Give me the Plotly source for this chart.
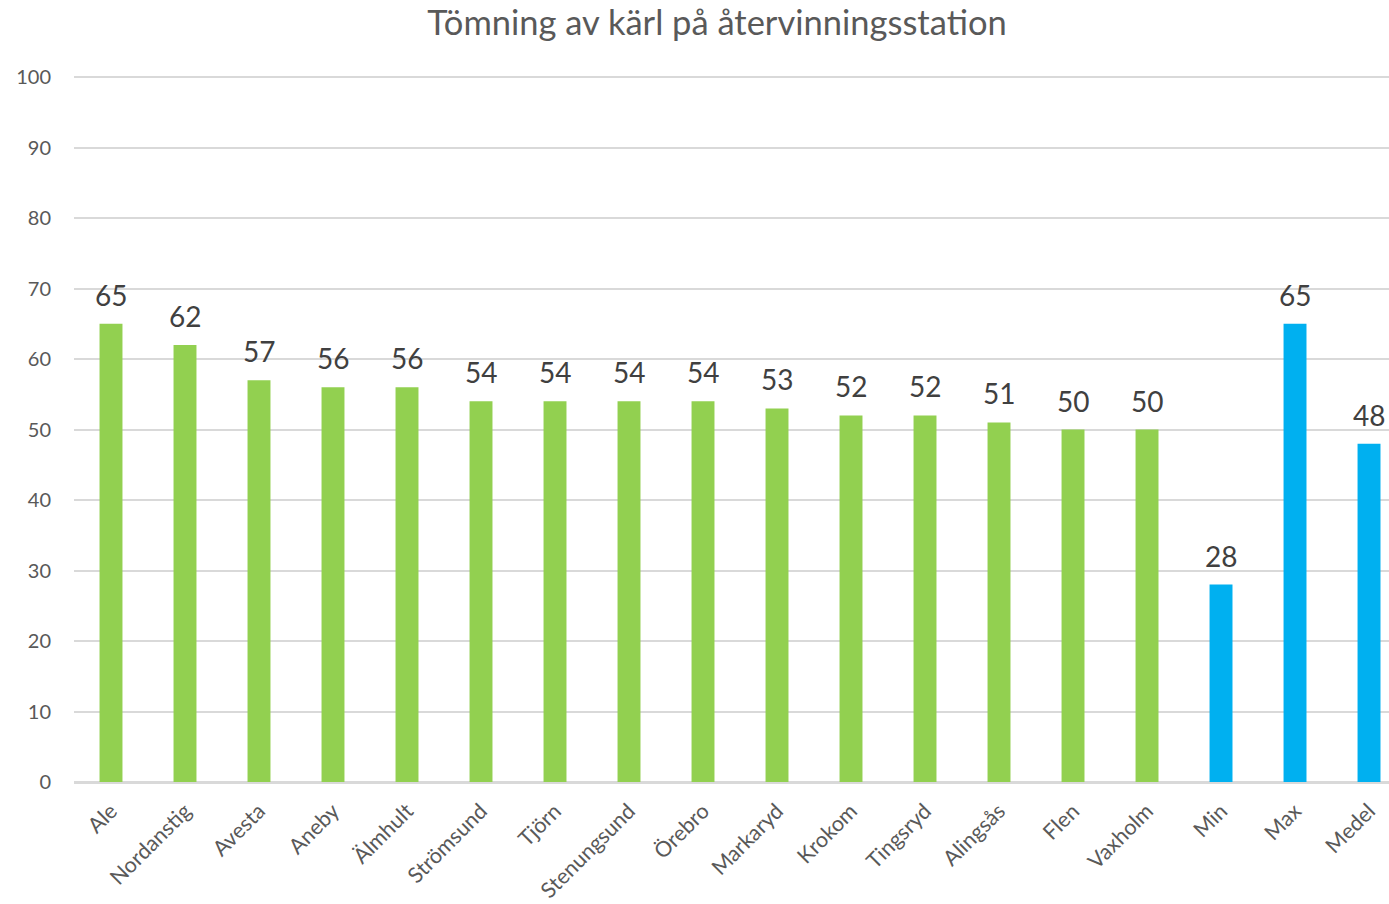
import plotly.graph_objects as go

# Kommuner och tömningsvärden
kommuner = ["Ale", "Nordanstig", "Avesta", "Aneby", "Älmhult", "Strömsund", "Tjörn",
            "Stenungsund", "Örebro", "Markaryd", "Krokom", "Tingsryd", "Alingsås",
            "Flen", "Vaxholm"]
kommun_varden = [65, 62, 57, 56, 56, 54, 54, 54, 54, 53, 52, 52, 51, 50, 50]

# Sammanställning
stat_namn = ["Min", "Max", "Medel"]
stat_varden = [28, 65, 48]

y_ticks = [0, 10, 20, 30, 40, 50, 60, 70, 80, 90, 100]

GREEN = "#92D050"
BLUE = "#00B0F0"
FONT = "Lato, Open Sans, sans-serif"

kategorier = kommuner + stat_namn
varden = kommun_varden + stat_varden
farger = [GREEN] * len(kommuner) + [BLUE] * len(stat_namn)

fig = go.Figure(
    go.Bar(
        x=kategorier,
        y=varden,
        marker=dict(color=farger, line=dict(width=0)),
        width=0.31,
        hoverinfo="x+y",
    )
)

# Värdeetiketter ovanför staplarna
for kat, v in zip(kategorier, varden):
    fig.add_annotation(
        x=kat,
        y=v,
        text=str(v),
        showarrow=False,
        yanchor="bottom",
        yshift=10,
        font=dict(size=28, color="#404040", family=FONT),
    )

fig.update_layout(
    width=1389,
    height=904,
    margin=dict(l=74, r=0, t=76, b=122),
    paper_bgcolor="white",
    plot_bgcolor="white",
    showlegend=False,
    font=dict(family=FONT, color="#595959"),
    title=dict(
        text="Tömning av kärl på återvinningsstation",
        x=0.489,
        xref="paper",
        xanchor="center",
        y=0.975,
        yanchor="middle",
        yref="container",
        font=dict(size=34.5, color="#595959", family=FONT),
    ),
)

fig.update_xaxes(
    range=[-0.5, 17.27],
    tickangle=-45,
    tickfont=dict(size=21.5, color="#595959", family=FONT),
    showgrid=False,
    showline=True,
    linecolor="#D9D9D9",
    linewidth=2,
    ticks="",
    ticklabelstandoff=6,
    automargin=False,
)

fig.update_yaxes(
    range=[0, 100.15],
    tickvals=y_ticks,
    tickfont=dict(size=20, color="#595959", family=FONT),
    showgrid=True,
    gridcolor="#D9D9D9",
    gridwidth=2,
    zeroline=True,
    zerolinecolor="#D9D9D9",
    zerolinewidth=2,
    showline=False,
    ticks="",
    ticklabelstandoff=22,
    automargin=False,
)

fig.write_html("out.html")
